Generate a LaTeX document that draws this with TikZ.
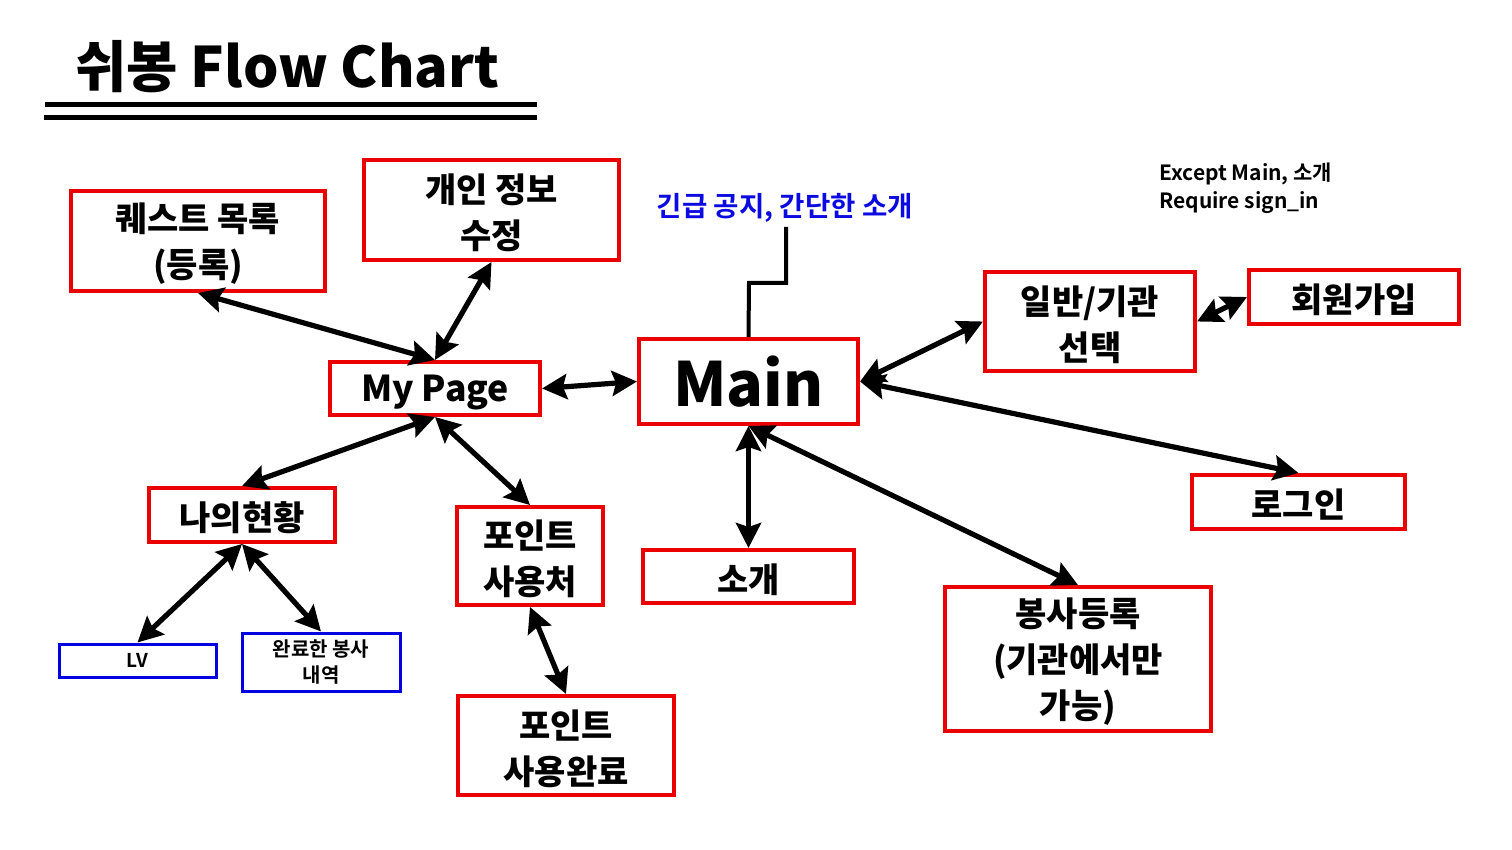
\documentclass[tikz,border=0pt]{standalone}
\usepackage{fontspec}
\setmainfont{Noto Sans CJK KR}[BoldFont={Noto Sans CJK KR Bold}]
\newfontfamily\heavy{Noto Sans CJK KR Black}
\usetikzlibrary{arrows.meta}
\definecolor{boxred}{RGB}{235,0,0}
\definecolor{boxblue}{RGB}{0,0,225}
\definecolor{noteblue}{RGB}{10,10,225}
\newcommand\myup{\rule{0pt}{17.2pt}}
\begin{document}
\begin{tikzpicture}[x=0.5pt,y=-0.5pt,
  rbox/.style={draw=boxred,line width=2pt,inner sep=0pt,align=center,
    font=\heavy\fontsize{17}{23}\selectfont},
  bbox/.style={draw=boxblue,line width=1.5pt,inner sep=0pt,align=center,
    font=\bfseries\fontsize{10}{13}\selectfont},
  mytip/.tip={Stealth[length=12.5pt,width=12.5pt,inset=2pt]},
  link/.style={line width=2.6pt,mytip-mytip},
  conn/.style={line width=2pt,line join=miter}]
\useasboundingbox (0,0) rectangle (1512,850);
% title
\node[anchor=west,inner sep=0pt,font=\heavy\fontsize{27.9}{29}\selectfont] (title) at (75,67) {쉬봉 Flow Chart};
\draw[line width=2.6pt] (45,104.5) -- (537,104.5);
\draw[line width=2.6pt] (44,117.5) -- (537,117.5);
% boxes
\node[rbox,minimum width=127pt,minimum height=50pt] (quest) at (198,241) {\myup 퀘스트 목록\\(등록)};
\node[rbox,minimum width=127.5pt,minimum height=50pt] (info) at (491.5,210) {\myup 개인 정보\\수정};
\node[rbox,minimum width=105pt,minimum height=26.5pt,font=\heavy\fontsize{17.8}{23}\selectfont] (mypage) at (435,388.5) {\myup My Page};
\node[rbox,minimum width=109.5pt,minimum height=42.5pt,font=\heavy\fontsize{30.5}{36}\selectfont] (main) at (748.5,381.5) {Main};
\node[rbox,minimum width=105pt,minimum height=49.5pt] (sel) at (1090,321.5) {\myup 일반/기관\\선택};
\node[rbox,minimum width=105pt,minimum height=27pt] (join) at (1354,297) {\myup 회원가입};
\node[rbox,minimum width=106.5pt,minimum height=27pt] (login) at (1298.5,502) {\myup 로그인};
\node[rbox,minimum width=93pt,minimum height=27pt] (status) at (242,515) {\myup 나의현황};
\node[rbox,minimum width=73pt,minimum height=49pt] (puse) at (530,556) {\myup 포인트\\사용처};
\node[rbox,minimum width=105.5pt,minimum height=26.5pt] (intro) at (748.5,576.5) {\myup 소개};
\node[rbox,minimum width=133pt,minimum height=72pt] (vol) at (1078,659) {\myup 봉사등록\\(기관에서만\\가능)};
\node[rbox,minimum width=108pt,minimum height=49.5pt] (pdone) at (566,745.5) {\myup 포인트\\사용완료};
\node[bbox,minimum width=78.5pt,minimum height=16.5pt,font=\bfseries\fontsize{9.5}{13}\selectfont] (lv) at (137.5,660.5) {LV};
\node[bbox,minimum width=79pt,minimum height=29pt] (done) at (321,662) {완료한 봉사\\내역};
% notes
\node[inner sep=0pt,text=noteblue,font=\bfseries\fontsize{13.8}{16}\selectfont] (note) at (785,208) {긴급 공지, 간단한 소개};
\node[anchor=north west,inner sep=0pt,align=left,font=\bfseries\fontsize{10.5}{13.7}\selectfont] (except) at (1159,163) {Except Main, 소개\\Require sign\_in};
\coordinate (nb) at (786,227);
\coordinate (nk) at (749,283);
\draw[conn] (nb) |- (nk) -- (main.north);
% arrows
\draw[link] (mypage.north) -- (quest.south);
\draw[link] (mypage.north) -- (info.south);
\draw[link] (mypage.east) -- (main.west);
\draw[link] (mypage.south) -- (status.north);
\draw[link] (mypage.south) -- (puse.north);
\draw[link] (status.south) -- (lv.north);
\draw[link] (status.south) -- (done.north);
\draw[link] (puse.south) -- (pdone.north);
\draw[link] (main.east) -- (sel.west);
\draw[link] (main.east) -- (login.north);
\draw[link] (main.south) -- (intro.north);
\draw[link] (main.south) -- (vol.north);
\draw[link] (sel.east) -- (join.west);
\end{tikzpicture}
\end{document}
